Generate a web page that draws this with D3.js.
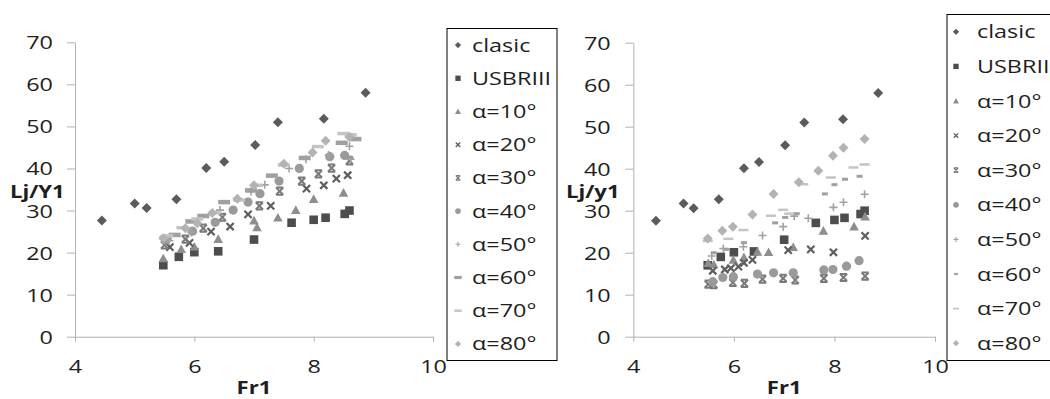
<!DOCTYPE html>
<html><head><meta charset="utf-8">
<script src="https://cdn.jsdelivr.net/npm/d3@7"></script>
<style>
html,body{margin:0;padding:0;background:#fff;}
svg text{font-family:"Open Sans",sans-serif;fill:#1e1e1e;}
</style></head>
<body>
<svg id="c" width="1050" height="399"></svg>
<script>
// ---------------- DATA ----------------
const seriesNames = ["clasic","USBRIII","α=10°","α=20°","α=30°","α=40°","α=50°","α=60°","α=70°","α=80°"];
const xTicks = [4,6,8,10];
const yTicks = [0,10,20,30,40,50,60,70];

const clasic = [[4.45,27.6],[5.0,31.7],[5.2,30.6],[5.7,32.7],[6.2,40.1],[6.5,41.6],[7.02,45.6],[7.4,51.0],[8.17,51.8],[8.87,58.0]];
const usbr   = [[5.48,17.0],[5.74,19.0],[6.0,20.1],[6.4,20.3],[7.0,23.1],[7.63,27.1],[8.0,27.8],[8.2,28.3],[8.52,29.2],[8.6,30.0]];

// left chart (Lj/Y1)
const L_a10 = [[5.48,18.6],[5.78,20.8],[6.0,21.4],[6.4,23.2],[7.0,27.6],[7.05,26.0],[7.4,28.3],[7.7,30.1],[8.0,32.7],[8.5,34.2]];
const L_a20 = [[5.59,21.3],[5.92,22.3],[6.28,25.0],[6.6,26.2],[6.9,29.1],[7.28,31.1],[7.88,35.2],[8.17,36.0],[8.38,37.6],[8.57,38.4]];
const L_a30 = [[5.5,21.8],[5.85,23.2],[6.15,25.8],[6.47,28.4],[7.09,31.1],[7.43,34.6],[7.8,37.0],[8.08,38.7],[8.3,40.1],[8.6,41.8]];
const L_a40 = [[5.52,23.0],[5.97,25.1],[6.35,27.2],[6.65,30.1],[6.9,32.0],[7.1,34.0],[7.42,37.0],[7.76,40.0],[8.27,42.8],[8.52,43.1]];
const L_a50 = [[5.58,22.8],[5.95,24.8],[6.43,30.1],[6.95,34.5],[7.18,36.1],[7.59,40.0],[7.87,42.2],[8.25,43.2],[8.6,45.3],[8.62,42.2]];
const L_a60 = [[5.52,23.5],[5.67,24.2],[5.95,27.4],[6.15,28.7],[6.5,32.0],[6.95,34.8],[7.3,38.3],[7.85,42.5],[8.47,46.1],[8.7,47.0]];
const L_a70 = [[5.55,24.0],[5.8,25.9],[6.05,28.0],[6.35,29.5],[6.75,32.5],[7.05,36.0],[7.5,40.8],[8.07,45.2],[8.5,48.3],[8.62,48.0]];
const L_a80 = [[5.48,23.4],[5.85,25.8],[6.05,27.0],[6.3,29.4],[6.72,32.8],[7.0,36.0],[7.5,41.1],[7.98,43.8],[8.2,46.6],[8.6,47.5]];

// right chart (Lj/y1)
const R_a10 = [[5.49,17.5],[5.6,17.2],[5.99,18.3],[6.2,18.9],[6.47,20.2],[6.69,20.1],[7.18,21.3],[7.78,25.2],[8.39,26.2],[8.61,28.6]];
const R_a20 = [[5.58,15.7],[5.82,16.0],[5.94,16.3],[6.09,16.7],[6.2,17.6],[6.37,18.3],[7.08,20.6],[7.53,20.8],[7.98,20.1],[8.61,24.0]];
const R_a30 = [[5.49,12.5],[5.6,12.4],[5.98,12.9],[6.21,12.7],[6.57,13.7],[6.98,13.9],[7.22,13.5],[7.79,13.9],[8.18,14.1],[8.61,14.4]];
const R_a40 = [[5.58,13.1],[5.78,14.1],[5.99,14.3],[6.47,14.9],[6.79,15.2],[7.18,15.2],[7.79,15.9],[7.97,16.0],[8.24,16.8],[8.49,18.1]];
const R_a50 = [[5.56,19.2],[5.79,21.0],[6.19,21.4],[6.57,24.1],[6.98,26.2],[7.2,28.7],[7.48,28.2],[7.98,30.8],[8.18,32.0],[8.6,33.9]];
const R_a60 = [[5.6,20.0],[5.85,20.8],[6.2,22.4],[6.82,27.1],[7.02,28.4],[7.25,29.3],[7.81,34.0],[8.0,36.2],[8.21,37.5],[8.5,38.2]];
const R_a70 = [[5.48,22.8],[5.89,23.3],[6.19,25.4],[6.74,28.8],[6.98,30.2],[7.1,29.3],[7.38,36.3],[7.93,37.9],[8.38,40.3],[8.6,41.0]];
const R_a80 = [[5.48,23.4],[5.77,25.2],[5.98,26.2],[6.37,29.1],[6.79,34.0],[7.29,36.8],[7.68,39.5],[7.97,43.1],[8.18,45.0],[8.6,47.1]];

// ---------------- STYLE ----------------
const colors = ["#5b5b5b","#4d4d4d","#8e8e8e","#5e5e5e","#7a7a7a","#9a9a9a","#a2a2a2","#a0a0a0","#c4c4c4","#b3b3b3"];
const SX = 1.3;   // horizontal stretch of text, as in the reference

const svg = d3.select("#c");

function stretchedText(g, x, y, s, anchor, size, weight){
  return g.append("text")
    .attr("transform", `translate(${x},${y}) scale(${SX},1)`)
    .attr("text-anchor", anchor)
    .style("font-size", size + "px")
    .style("font-weight", weight || "normal")
    .text(s);
}

function drawMarker(g, i, cx, cy, k, dashStyle){
  const c = colors[i];
  const t = `translate(${cx},${cy})`;
  if (i === 0 || i === 9){ // diamond
    const r = 5*k;
    g.append("path").attr("transform", t).attr("d", `M0,${-r}L${r},0L0,${r}L${-r},0Z`).attr("fill", c);
  } else if (i === 1){ // square
    const r = 4.3*k;
    g.append("rect").attr("x", cx-r).attr("y", cy-r).attr("width", 2*r).attr("height", 2*r).attr("fill", c);
  } else if (i === 2){ // triangle
    const r = 4.8*k;
    g.append("path").attr("transform", t).attr("d", `M0,${-r}L${r},${r*0.8}L${-r},${r*0.8}Z`).attr("fill", c);
  } else if (i === 3){ // x
    const r = 3.6*k;
    g.append("path").attr("transform", t).attr("d", `M${-r},${-r}L${r},${r}M${-r},${r}L${r},${-r}`)
      .attr("stroke", c).attr("stroke-width", 2.2*Math.max(k,0.55)).attr("fill","none");
  } else if (i === 4){ // asterisk (x with bars)
    const r = 3.6*k;
    g.append("path").attr("transform", t).attr("d", `M${-r},${-r}L${r},${r}M${-r},${r}L${r},${-r}M${-r},${-r}L${r},${-r}M${-r},${r}L${r},${r}`)
      .attr("stroke", c).attr("stroke-width", 2*Math.max(k,0.55)).attr("fill","none");
  } else if (i === 5){ // circle
    g.append("circle").attr("cx", cx).attr("cy", cy).attr("r", 4.6*k).attr("fill", c);
  } else if (i === 6){ // plus
    const r = 4*k;
    g.append("path").attr("transform", t).attr("d", `M${-r},0L${r},0M0,${-r}L0,${r}`)
      .attr("stroke", c).attr("stroke-width", 1.6*Math.max(k,0.7)).attr("fill","none");
  } else { // dashes 7,8
    const w = dashStyle[i].w*k, h = dashStyle[i].h*Math.max(k,0.7);
    g.append("rect").attr("x", cx-w/2).attr("y", cy-h/2).attr("width", w).attr("height", h).attr("fill", c);
  }
}

function chart(opt){
  const x = d3.scaleLinear().domain([4,10]).range([opt.x0, opt.x1]);
  const y = d3.scaleLinear().domain([0,70]).range([opt.y0, opt.y1]);
  const g = svg.append("g");

  const ya = g.append("g").attr("transform", `translate(${opt.x0},0)`)
    .call(d3.axisLeft(y).tickValues(yTicks).tickSize(8).tickSizeOuter(0).tickFormat(d3.format("d")));
  const xa = g.append("g").attr("transform", `translate(0,${opt.y0})`)
    .call(d3.axisBottom(x).tickValues(xTicks).tickSize(5).tickSizeOuter(0).tickFormat(d3.format("d")));
  [ya, xa].forEach(a => {
    a.select(".domain").attr("stroke", "#b3b3b3");
    a.selectAll(".tick line").attr("stroke", "#b3b3b3");
  });
  ya.selectAll(".tick text").attr("x", null).attr("dy", null)
    .attr("transform", `translate(${-opt.yLabOff},6.5) scale(${SX},1)`)
    .style("font-size","18px").attr("fill","#1e1e1e").style("font-family","'Open Sans',sans-serif");
  xa.selectAll(".tick text").attr("y", null).attr("dy", null)
    .attr("transform", `translate(0,36.5) scale(${SX},1)`)
    .style("font-size","18px").attr("fill","#1e1e1e").style("font-family","'Open Sans',sans-serif");

  // axis titles
  stretchedText(g, (opt.x0+opt.x1)/2, 394, "Fr1", "middle", 17, "bold");
  stretchedText(g, opt.yTitleX, 198, opt.yTitle, "start", 17, "bold");

  // points
  const pg = g.append("g");
  opt.series.forEach((s, i) => {
    s.forEach(d => drawMarker(pg, i, x(d[0]), y(d[1]), 1, opt.dash));
  });

  // legend
  const lg = g.append("g");
  lg.append("rect").attr("x", opt.lx).attr("y", opt.ly0).attr("width", opt.lw).attr("height", opt.ly1-opt.ly0)
    .attr("fill","#fff").attr("stroke","#000").attr("stroke-width",1);
  const step = (opt.ly1-opt.ly0)/seriesNames.length;
  seriesNames.forEach((n, i) => {
    const cy = opt.ly0 + step*(i+0.5);
    drawMarker(lg, i, opt.lmx, cy, 0.62, opt.dash);
    stretchedText(lg, opt.ltx, cy+6.5, n, "start", 18);
  });
}

chart({
  x0: 75, x1: 433, y0: 336.7, y1: 42.3, yLabOff: 22,
  yTitle: "Lj/Y1", yTitleX: 10,
  series: [clasic, usbr, L_a10, L_a20, L_a30, L_a40, L_a50, L_a60, L_a70, L_a80],
  dash: {7:{w:12,h:4.5}, 8:{w:12,h:3.5}},
  lx: 447, lw: 110, ly0: 28.5, ly1: 360.5, lmx: 458, ltx: 472
});
chart({
  x0: 633.3, x1: 935, y0: 336.7, y1: 42.7, yLabOff: 22.6,
  yTitle: "Lj/y1", yTitleX: 566,
  series: [clasic, usbr, R_a10, R_a20, R_a30, R_a40, R_a50, R_a60, R_a70, R_a80],
  dash: {7:{w:6,h:3}, 8:{w:10,h:2.5}},
  lx: 947, lw: 120, ly0: 14.5, ly1: 360.5, lmx: 956, ltx: 977
});
</script>
</body></html>
